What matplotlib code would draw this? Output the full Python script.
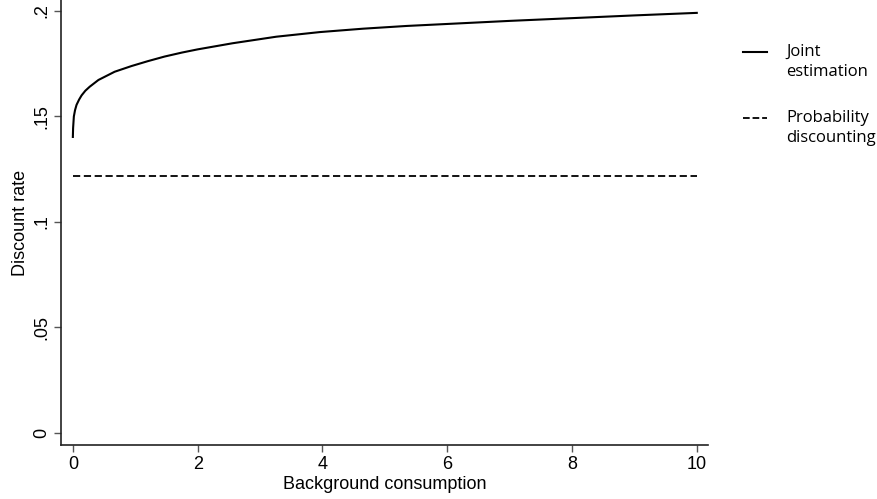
import matplotlib
matplotlib.use('Agg')
from matplotlib import pyplot as plt
from matplotlib.lines import Line2D

# values
consumption = [0, 0.004, 0.016, 0.035, 0.059, 0.1, 0.14, 0.2, 0.27, 0.41,
               0.67, 0.94, 1.2, 1.47, 1.75, 2.0, 2.56, 3.26, 3.96, 4.65,
               5.35, 6.04, 7, 8, 9, 10]
joint_rate = [0.1403, 0.1445, 0.1500, 0.1530, 0.1555, 0.1580, 0.1600, 0.1622,
              0.1641, 0.1673, 0.1712, 0.1739, 0.1762, 0.1784, 0.1803, 0.1818,
              0.1847, 0.1878, 0.1900, 0.1916, 0.1929, 0.1939, 0.1953, 0.1966,
              0.1979, 0.1991]
prob_x = [0, 10]
prob_rate = [0.1218, 0.1218]

x_ticks = [0, 2, 4, 6, 8, 10]
y_ticks = [0, 0.05, 0.1, 0.15, 0.2]
y_tick_labels = ['0', '.05', '.1', '.15', '.2']

legend_labels = [['Joint', 'estimation'], ['Probability', 'discounting']]

plt.rcParams['font.family'] = ['Liberation Sans', 'DejaVu Sans']

W, H = 878, 499
fig = plt.figure(figsize=(W / 100, H / 100), dpi=100)
ax = fig.add_axes([61 / W, 54 / H, (708 - 61) / W, 445 / H])

ln_joint, = ax.plot(consumption, joint_rate, color='black', lw=1.5,
                    solid_joinstyle='round')
ln_prob, = ax.plot(prob_x, prob_rate, color='black', lw=1.3, dashes=(4.0, 2.0))

ax.set_xlim(-0.19, 10.18)
ax.set_ylim(-0.0057, 0.2052)
ax.set_xticks(x_ticks)
ax.set_xticklabels([str(v) for v in x_ticks])
ax.set_yticks(y_ticks)
ax.set_yticklabels(y_tick_labels, rotation=90, va='center')

for side in ['top', 'right']:
    ax.spines[side].set_visible(False)
for side in ['left', 'bottom']:
    ax.spines[side].set_linewidth(1.2)
    ax.spines[side].set_color('#222222')
ax.tick_params(direction='out', length=5, width=1, color='#555555',
               labelsize=13, pad=3)

ax.set_xlabel('Background consumption', fontsize=13, labelpad=2)
ax.set_ylabel('Discount rate', fontsize=13, labelpad=3)


# legend on the right, handle level with the first line of each label
def legend_entry(src, lines, y_px):
    fig.add_artist(Line2D([743 / W, 767 / W], [1 - y_px / H, 1 - y_px / H],
                          transform=fig.transFigure, color='black',
                          lw=src.get_linewidth(),
                          linestyle=src.get_linestyle()))
    for i, txt in enumerate(lines):
        fig.text(786 / W, 1 - (y_px + 4 + 20.5 * i) / H, txt,
                 family='Open Sans', fontsize=12, va='baseline', ha='left')


legend_entry(ln_joint, legend_labels[0], 52)
legend_entry(ln_prob, legend_labels[1], 118)

fig.savefig('out.png', dpi=100)
